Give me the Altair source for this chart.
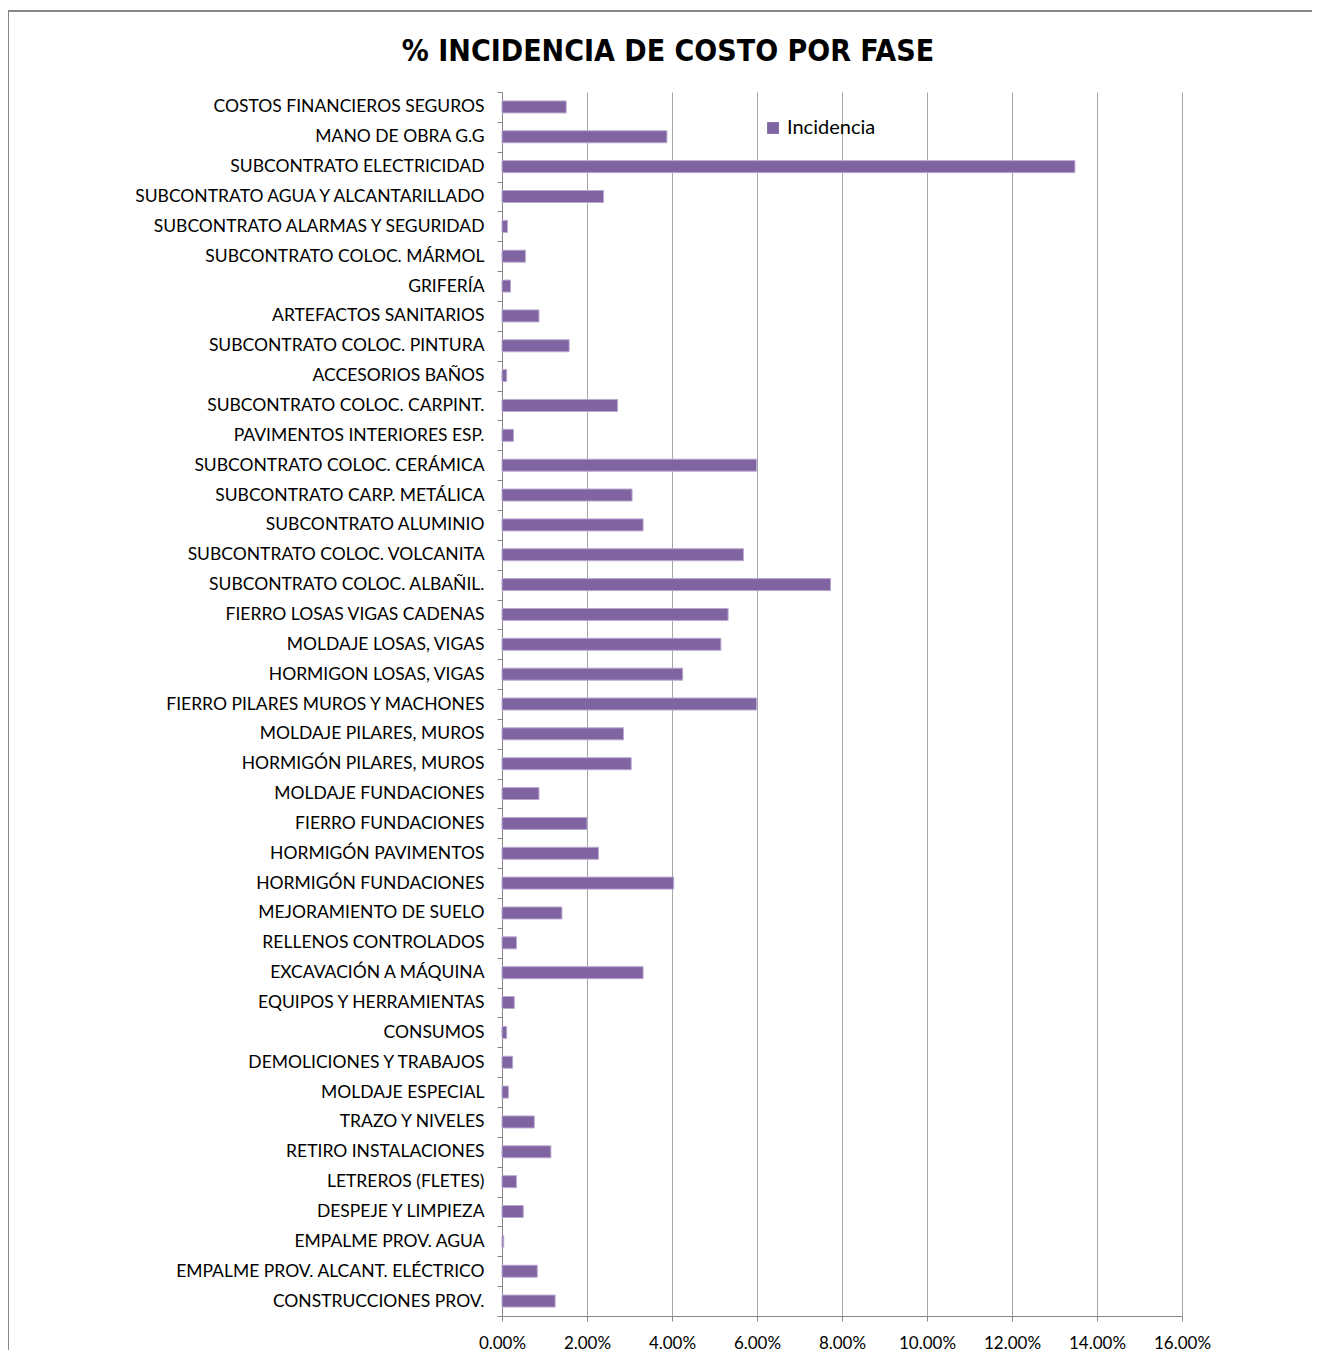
import altair as alt
import pandas as pd

categories = [
    "COSTOS FINANCIEROS SEGUROS",
    "MANO DE OBRA G.G",
    "SUBCONTRATO ELECTRICIDAD",
    "SUBCONTRATO AGUA Y ALCANTARILLADO",
    "SUBCONTRATO ALARMAS Y SEGURIDAD",
    "SUBCONTRATO COLOC. MÁRMOL",
    "GRIFERÍA",
    "ARTEFACTOS SANITARIOS",
    "SUBCONTRATO COLOC. PINTURA",
    "ACCESORIOS BAÑOS",
    "SUBCONTRATO COLOC. CARPINT.",
    "PAVIMENTOS INTERIORES ESP.",
    "SUBCONTRATO COLOC. CERÁMICA",
    "SUBCONTRATO CARP. METÁLICA",
    "SUBCONTRATO ALUMINIO",
    "SUBCONTRATO COLOC. VOLCANITA",
    "SUBCONTRATO COLOC. ALBAÑIL.",
    "FIERRO LOSAS VIGAS CADENAS",
    "MOLDAJE LOSAS, VIGAS",
    "HORMIGON LOSAS, VIGAS",
    "FIERRO PILARES MUROS Y MACHONES",
    "MOLDAJE PILARES, MUROS",
    "HORMIGÓN PILARES, MUROS",
    "MOLDAJE FUNDACIONES",
    "FIERRO FUNDACIONES",
    "HORMIGÓN PAVIMENTOS",
    "HORMIGÓN FUNDACIONES",
    "MEJORAMIENTO DE SUELO",
    "RELLENOS CONTROLADOS",
    "EXCAVACIÓN A MÁQUINA",
    "EQUIPOS Y HERRAMIENTAS",
    "CONSUMOS",
    "DEMOLICIONES Y TRABAJOS ",
    "MOLDAJE ESPECIAL",
    "TRAZO Y NIVELES",
    "RETIRO INSTALACIONES",
    "LETREROS (FLETES)",
    "DESPEJE Y LIMPIEZA",
    "EMPALME PROV. AGUA",
    "EMPALME PROV. ALCANT. ELÉCTRICO",
    "CONSTRUCCIONES PROV.",
]

incidencia = [
    0.0151, 0.0388, 0.1348, 0.0239, 0.0013, 0.0055, 0.0020, 0.0087, 0.0158, 0.0011,
    0.0272, 0.0027, 0.0599, 0.0306, 0.0332, 0.0568, 0.0773, 0.0532, 0.0515, 0.0425,
    0.0599, 0.0286, 0.0304, 0.0087, 0.0200, 0.0227, 0.0404, 0.0141, 0.0034, 0.0332,
    0.0029, 0.0011, 0.0025, 0.0015, 0.0076, 0.0115, 0.0034, 0.0050, 0.0004, 0.0083,
    0.0125,
]

tick_values = [0, 0.02, 0.04, 0.06, 0.08, 0.10, 0.12, 0.14, 0.16]

series_name = "Incidencia"

df = pd.DataFrame({
    "fase": categories,
    "valor": incidencia,
    "serie": [series_name] * len(categories),
})

FONT = "Lato"

bars = (
    alt.Chart(df)
    .mark_bar(size=12, stroke="#b9a8d0", strokeWidth=1, color="#8064A2")
    .encode(
        x=alt.X(
            "valor:Q",
            scale=alt.Scale(domain=[0, 0.16], nice=False),
            axis=alt.Axis(
                values=tick_values,
                format=".2%",
                title=None,
                grid=True,
                gridColor="#a6a6a6",
                gridWidth=1,
                domainColor="#868686",
                tickColor="#868686",
                tickSize=5,
                labelFontSize=17,
                labelColor="#000000",
                labelPadding=14,
                labelFlush=False,
                labelOverlap=False,
                labelFont=FONT,
            ),
        ),
        y=alt.Y(
            "fase:N",
            sort=None,
            scale=alt.Scale(paddingInner=0, paddingOuter=0),
            axis=alt.Axis(
                title=None,
                grid=False,
                tickBand="extent",
                domainColor="#868686",
                tickColor="#868686",
                tickSize=5,
                labelFontSize=17.5,
                labelColor="#000000",
                labelPadding=13,
                labelFont=FONT,
                labelLimit=450,
            ),
        ),
        color=alt.Color(
            "serie:N",
            scale=alt.Scale(range=["#8064A2"]),
            legend=alt.Legend(
                title=None,
                orient="none",
                legendX=261,
                legendY=26,
                symbolType="square",
                symbolSize=140,
                symbolStrokeWidth=0,
                labelOffset=4,
                labelFontSize=20,
                labelFont=FONT,
                labelColor="#000000",
            ),
        ),
    )
)

# decorative chart-area border (top and left edges, as in the reference)
border_top = (
    alt.Chart(df)
    .mark_rule(stroke="#868686", strokeWidth=2)
    .encode(x=alt.value(-494), x2=alt.value(810), y=alt.value(-81))
)
border_left = (
    alt.Chart(df)
    .mark_rule(stroke="#868686", strokeWidth=2)
    .encode(x=alt.value(-494), y=alt.value(-82), y2=alt.value(1258))
)

chart = (
    alt.layer(bars, border_top, border_left)
    .properties(
        width=680,
        height=1224,
        title=alt.TitleParams(
            "% INCIDENCIA DE COSTO POR FASE",
            font="DejaVu Sans Condensed",
            fontSize=30,
            fontWeight="bold",
            color="#000000",
            anchor="middle",
            frame="group",
            dx=-174,
            offset=-58,
        ),
        autosize=alt.AutoSizeParams(type="none"),
        padding={"left": 494, "top": 84, "right": 130, "bottom": 36},
    )
    .configure_view(stroke=None)
)

chart.save("out.html", embed_options={"renderer": "svg", "actions": False})
